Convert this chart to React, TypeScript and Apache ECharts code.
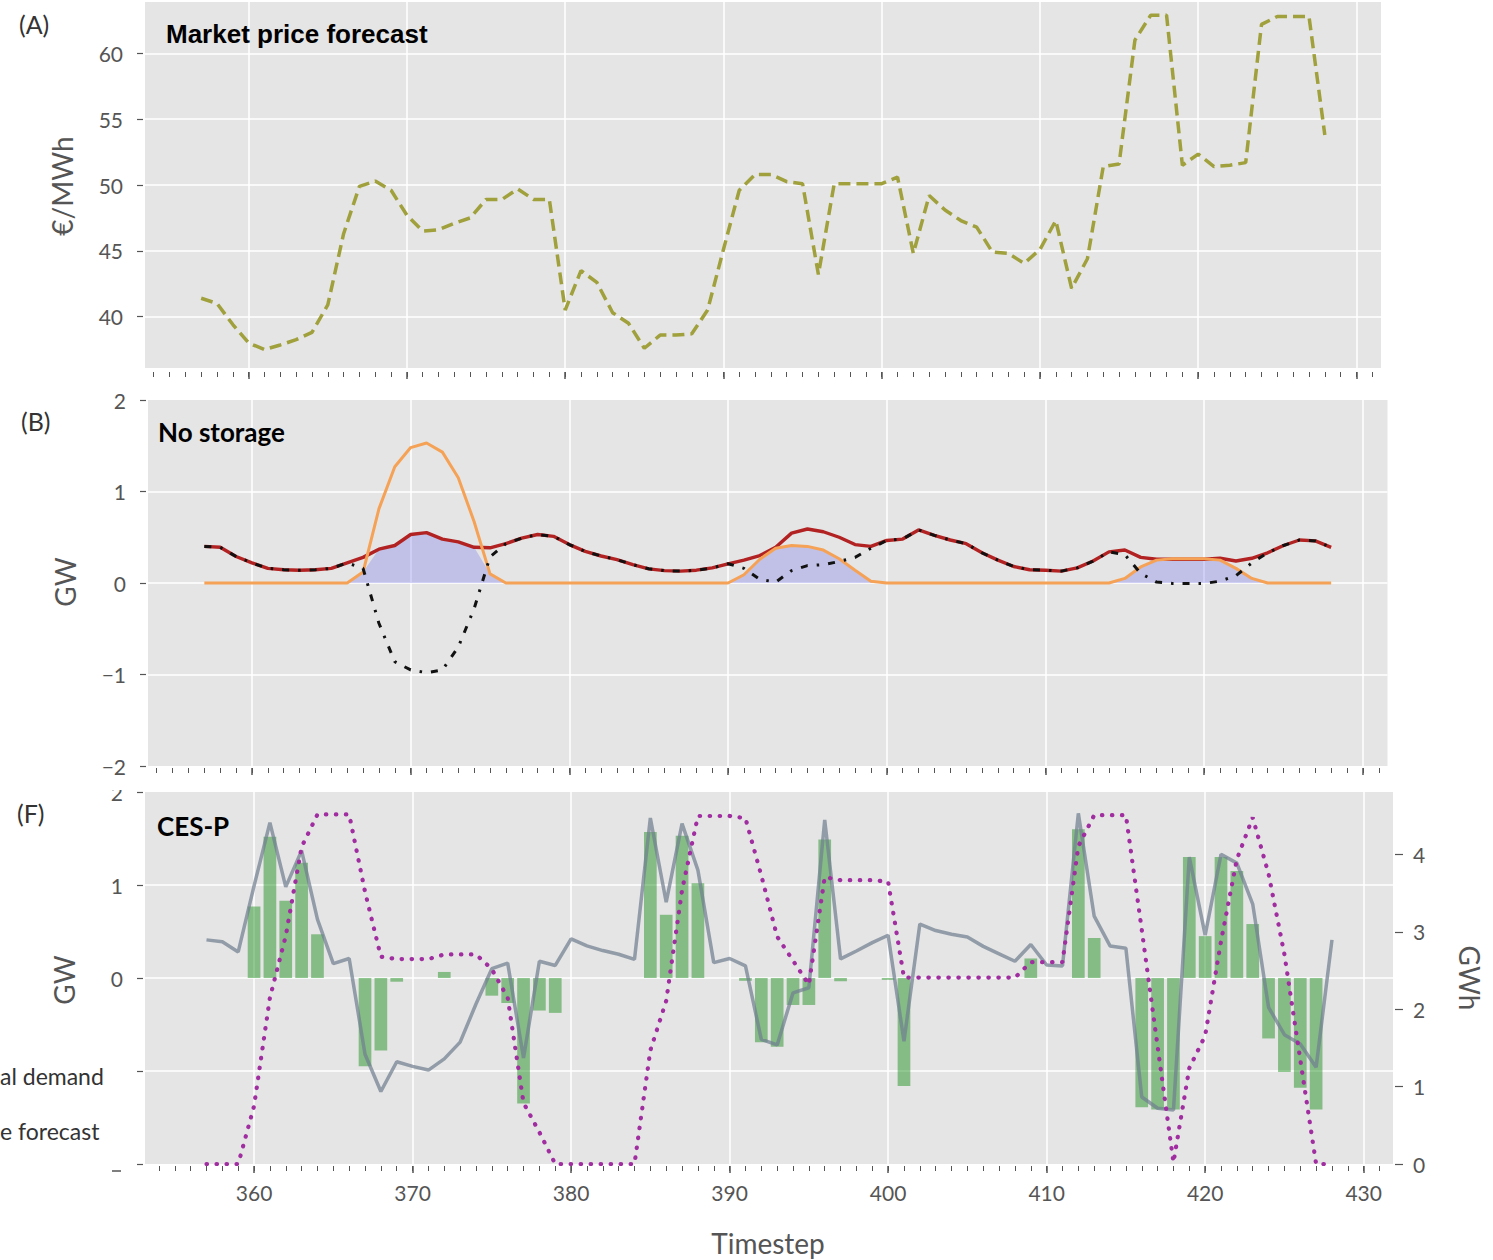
import React, { useEffect, useRef } from "react";
import * as echarts from "echarts";

// Timesteps shown in every panel
const timesteps: number[] = Array.from({ length: 72 }, (_, i) => 357 + i);

// (A) market price forecast, €/MWh
const priceForecast = [
  41.4, 41.0, 39.4, 38.0, 37.5, 37.85, 38.25, 38.8, 40.9, 46.3,
  49.9, 50.3, 49.6, 47.7, 46.5, 46.6, 47.1, 47.5, 48.9, 48.9,
  49.7, 48.9, 48.9, 40.5, 43.5, 42.6, 40.3, 39.5, 37.6, 38.6,
  38.6, 38.7, 40.5, 45.1, 49.6, 50.8, 50.8, 50.25, 50.1, 43.2,
  50.1, 50.1, 50.1, 50.1, 50.6, 44.8, 49.2, 48.1, 47.3, 46.8,
  44.9, 44.8, 44.05, 45.1, 47.3, 42.15, 44.4, 51.4, 51.6, 61.0,
  62.9, 62.9, 51.5, 52.35, 51.4, 51.5, 51.7, 62.2, 62.8, 62.8,
  62.8, 53.8,
];

// (B) no storage, GW
const demand = [
  0.40, 0.39, 0.29, 0.22, 0.16, 0.145, 0.14, 0.145, 0.16, 0.22,
  0.28, 0.37, 0.41, 0.53, 0.55, 0.48, 0.45, 0.39, 0.385, 0.43,
  0.49, 0.53, 0.51, 0.42, 0.345, 0.295, 0.255, 0.20, 0.155, 0.135,
  0.13, 0.14, 0.165, 0.21, 0.25, 0.30, 0.39, 0.545, 0.59, 0.56,
  0.50, 0.42, 0.40, 0.465, 0.48, 0.58, 0.52, 0.47, 0.43, 0.33,
  0.25, 0.18, 0.145, 0.14, 0.13, 0.165, 0.24, 0.34, 0.36, 0.28,
  0.26, 0.26, 0.26, 0.26, 0.27, 0.24, 0.27, 0.33, 0.41, 0.47,
  0.46, 0.39,
];
const pvGeneration = [
  0, 0, 0, 0, 0, 0, 0, 0, 0, 0,
  0.12, 0.81, 1.27, 1.48, 1.53, 1.43, 1.15, 0.67, 0.10, 0,
  0, 0, 0, 0, 0, 0, 0, 0, 0, 0,
  0, 0, 0, 0, 0.09, 0.26, 0.38, 0.41, 0.40, 0.36,
  0.265, 0.14, 0.02, 0, 0, 0, 0, 0, 0, 0,
  0, 0, 0, 0, 0, 0, 0, 0, 0.05, 0.175,
  0.25, 0.265, 0.265, 0.265, 0.25, 0.16, 0.05, 0, 0, 0,
  0, 0,
];
const netDemand = [
  0.40, 0.39, 0.29, 0.22, 0.16, 0.145, 0.14, 0.145, 0.16, 0.22,
  0.16, -0.44, -0.86, -0.95, -0.98, -0.95, -0.70, -0.28, 0.285, 0.43,
  0.49, 0.53, 0.51, 0.42, 0.345, 0.295, 0.255, 0.20, 0.155, 0.135,
  0.13, 0.14, 0.165, 0.21, 0.16, 0.04, 0.01, 0.135, 0.19, 0.20,
  0.235, 0.28, 0.38, 0.465, 0.48, 0.58, 0.52, 0.47, 0.43, 0.33,
  0.25, 0.18, 0.145, 0.14, 0.13, 0.165, 0.24, 0.34, 0.31, 0.105,
  0.01, -0.005, -0.005, -0.005, 0.02, 0.08, 0.22, 0.33, 0.41, 0.47,
  0.46, 0.39,
];
const selfConsumption = [
  0, 0, 0, 0, 0, 0, 0, 0, 0, 0,
  0.12, 0.37, 0.41, 0.53, 0.55, 0.48, 0.45, 0.39, 0.10, 0,
  0, 0, 0, 0, 0, 0, 0, 0, 0, 0,
  0, 0, 0, 0, 0.09, 0.26, 0.38, 0.41, 0.40, 0.36,
  0.265, 0.14, 0.02, 0, 0, 0, 0, 0, 0, 0,
  0, 0, 0, 0, 0, 0, 0, 0, 0.05, 0.175,
  0.25, 0.26, 0.26, 0.26, 0.25, 0.16, 0.05, 0, 0, 0,
  0, 0,
];

// (F) CES-P: battery power (GW), grid exchange (GW), state of charge (GWh)
const batteryPower: (number | null)[] = [
  null, null, null, 0.77, 1.52, 0.83, 1.24, 0.47, null, null,
  -0.95, -0.78, -0.04, null, null, 0.065, null, null, -0.19, -0.27,
  -1.35, -0.35, -0.375, null, null, null, null, null, 1.57, 0.68,
  1.53, 1.02, null, null, -0.03, -0.69, -0.74, -0.29, -0.29, 1.49,
  -0.035, null, null, -0.02, -1.16, null, null, null, null, null,
  null, null, 0.21, null, null, 1.60, 0.43, null, null, -1.39,
  -1.415, -1.415, 1.30, 0.45, 1.30, 1.15, 0.58, -0.65, -1.01, -1.18,
  -1.415, null,
];
const gridExchange = [
  0.41, 0.39, 0.28, 0.99, 1.67, 0.98, 1.37, 0.63, 0.155, 0.21,
  -0.82, -1.22, -0.90, -0.95, -0.99, -0.87, -0.69, -0.28, 0.10, 0.16,
  -0.86, 0.18, 0.135, 0.42, 0.345, 0.295, 0.255, 0.20, 1.72, 0.815,
  1.66, 1.16, 0.165, 0.21, 0.13, -0.66, -0.72, -0.16, -0.105, 1.70,
  0.205, 0.29, 0.38, 0.46, -0.68, 0.58, 0.51, 0.47, 0.44, 0.34,
  0.26, 0.18, 0.36, 0.14, 0.13, 1.77, 0.665, 0.345, 0.32, -1.28,
  -1.40, -1.42, 1.30, 0.46, 1.33, 1.235, 0.795, -0.315, -0.61, -0.71,
  -0.96, 0.41,
];
const stateOfCharge = [
  0, 0, 0, 0.75, 2.15, 2.95, 4.1, 4.52, 4.52, 4.52,
  3.52, 2.68, 2.65, 2.65, 2.65, 2.71, 2.71, 2.71, 2.52, 2.15,
  0.79, 0.41, 0, 0, 0, 0, 0, 0, 1.47, 2.11,
  3.54, 4.5, 4.5, 4.5, 4.47, 3.73, 2.94, 2.63, 2.32, 3.71,
  3.67, 3.67, 3.67, 3.65, 2.41, 2.41, 2.41, 2.41, 2.41, 2.41,
  2.41, 2.41, 2.61, 2.61, 2.61, 4.11, 4.51, 4.51, 4.51, 3.03,
  1.52, 0.02, 1.24, 1.66, 2.88, 3.94, 4.48, 3.75, 2.71, 1.35,
  0, 0,
];

// Axis ticks
const majorTicks = [360, 370, 380, 390, 400, 410, 420, 430];
const minorTicks: number[] = Array.from({ length: 78 }, (_, i) => 354 + i);
const priceTicks = [40, 45, 50, 55, 60];
const socTicks = [0, 1, 2, 3, 4];

const FONT = "Lato, 'Open Sans', sans-serif";
const TICK_COLOR = "#555555";
const labelStyle = { color: TICK_COLOR, fontFamily: FONT, fontSize: 21 };
const gridLine = { show: true, lineStyle: { color: "#ffffff", width: 1.5 } };
const edgeFreeGridLine = { ...gridLine, showMinLine: false, showMaxLine: false };

const pairs = (vals: (number | null)[]) => timesteps.map((t, i) => [t, vals[i]]);

function xAxes(gridIndex: number, min: number, max: number, offset: number, showLabels: boolean) {
  return [
    {
      type: "value", gridIndex, position: "bottom", min, max, offset,
      axisLine: { show: false, onZero: false },
      axisTick: { show: true, customValues: majorTicks, length: 7, lineStyle: { color: TICK_COLOR, width: 1.5 } },
      axisLabel: { show: showLabels, customValues: majorTicks, margin: 16, ...labelStyle },
      splitLine: gridLine,
    },
    {
      type: "value", gridIndex, position: "bottom", min, max, offset,
      axisLine: { show: false, onZero: false },
      axisTick: { show: true, customValues: minorTicks, length: 5, lineStyle: { color: TICK_COLOR, width: 1 } },
      axisLabel: { show: false },
      splitLine: { show: false },
    },
  ];
}

const minusLabel = (v: number) => (v < 0 ? "\u2212" + Math.abs(v) : String(v));

function text(x: number, y: number, s: string, font: string, fill: string, align = "left", rotation = 0) {
  return {
    type: "text", x, y, rotation, z: 50,
    style: { text: s, font, fill, align, verticalAlign: "middle", textAlign: align, textVerticalAlign: "middle" },
  };
}

function buildOption(): any {
  const leftTick = { show: true, length: 6, lineStyle: { color: TICK_COLOR, width: 1.2 } };
  return {
    animation: false,
    grid: [
      { left: 145, top: 2, width: 1236, height: 366, show: true, backgroundColor: "#e5e5e5", borderWidth: 0 },
      { left: 148, top: 400, width: 1239.5, height: 366, show: true, backgroundColor: "#e5e5e5", borderWidth: 0 },
      { left: 145, top: 792, width: 1248, height: 372, show: true, backgroundColor: "#e5e5e5", borderWidth: 0 },
    ],
    xAxis: [
      ...xAxes(0, 353.45, 431.55, 4, false),
      ...xAxes(1, 353.45, 431.55, 2, false),
      ...xAxes(2, 353.12, 431.85, 2, true),
    ],
    yAxis: [
      {
        type: "value", gridIndex: 0, min: 36.1, max: 63.9, offset: 2,
        axisLine: { show: false, onZero: false },
        axisTick: { ...leftTick, customValues: priceTicks },
        axisLabel: { customValues: priceTicks, margin: 20, ...labelStyle },
        splitLine: gridLine,
      },
      {
        type: "value", gridIndex: 1, min: -2, max: 2, interval: 1, offset: 2,
        axisLine: { show: false, onZero: false },
        axisTick: leftTick,
        axisLabel: { margin: 20, formatter: minusLabel, ...labelStyle },
        splitLine: edgeFreeGridLine,
      },
      {
        type: "value", gridIndex: 2, min: -2, max: 2, interval: 1, offset: 2,
        axisLine: { show: false, onZero: false },
        axisTick: leftTick,
        axisLabel: { margin: 20, formatter: (v: number) => (v >= 0 ? String(v) : ""), ...labelStyle },
        splitLine: edgeFreeGridLine,
      },
      {
        type: "value", gridIndex: 2, position: "right", min: 0, max: 4.81, offset: 2,
        axisLine: { show: false, onZero: false },
        axisTick: { show: true, length: 8, customValues: socTicks, lineStyle: { color: TICK_COLOR, width: 1.2 } },
        axisLabel: { customValues: socTicks, margin: 18, ...labelStyle },
        splitLine: { show: false },
      },
    ],
    series: [
      {
        type: "line", name: "Market price forecast", xAxisIndex: 0, yAxisIndex: 0,
        data: pairs(priceForecast), symbol: "none", silent: true,
        lineStyle: { color: "#a0a03c", width: 3.5, type: [12, 6] },
      },
      {
        type: "line", name: "Self consumption", xAxisIndex: 2, yAxisIndex: 1,
        data: pairs(selfConsumption), symbol: "none", silent: true,
        lineStyle: { width: 0, opacity: 0 },
        areaStyle: { color: "rgba(110,110,235,0.3)", opacity: 1 },
        z: 1,
      },
      {
        type: "line", name: "Demand", xAxisIndex: 2, yAxisIndex: 1,
        data: pairs(demand), symbol: "none", silent: true,
        lineStyle: { color: "#b22222", width: 3.4 }, z: 2,
      },
      {
        type: "line", name: "PV generation", xAxisIndex: 2, yAxisIndex: 1,
        data: pairs(pvGeneration), symbol: "none", silent: true,
        lineStyle: { color: "#f5a256", width: 3 }, z: 3,
      },
      {
        type: "line", name: "Net demand", xAxisIndex: 2, yAxisIndex: 1,
        data: pairs(netDemand), symbol: "none", silent: true,
        lineStyle: { color: "#111111", width: 3, type: [7, 9, 2.5, 9] }, z: 4,
      },
      {
        type: "bar", name: "Battery power", xAxisIndex: 4, yAxisIndex: 2,
        data: pairs(batteryPower), barWidth: 12.7, silent: true,
        itemStyle: { color: "rgba(0,128,0,0.42)" }, z: 1,
      },
      {
        type: "line", name: "Grid exchange", xAxisIndex: 4, yAxisIndex: 2,
        data: pairs(gridExchange), symbol: "none", silent: true,
        lineStyle: { color: "rgba(112,128,144,0.72)", width: 3.5 }, z: 3,
      },
      {
        type: "line", name: "State of charge", xAxisIndex: 4, yAxisIndex: 3,
        data: pairs(stateOfCharge), symbol: "none", silent: true,
        lineStyle: { color: "#a02ea0", width: 4.2, type: [0.5, 9.5], cap: "round" }, z: 4,
      },
    ],
    graphic: [
      text(19, 24, "(A)", `25px ${FONT}`, "#333"),
      text(166, 34, "Market price forecast", "bold 26px 'Liberation Sans', Arial, sans-serif", "#000"),
      text(62, 186, "€/MWh", `28px ${FONT}`, TICK_COLOR, "center", Math.PI / 2),
      text(21, 421, "(B)", `25px ${FONT}`, "#333"),
      text(158, 432, "No storage", `bold 26px ${FONT}`, "#000"),
      text(65, 582, "GW", `28px ${FONT}`, TICK_COLOR, "center", Math.PI / 2),
      text(17, 813, "(F)", `25px ${FONT}`, "#333"),
      text(157, 826, "CES-P", `bold 26px ${FONT}`, "#000"),
      text(64, 980, "GW", `28px ${FONT}`, TICK_COLOR, "center", Math.PI / 2),
      text(1470, 978, "GWh", `28px ${FONT}`, TICK_COLOR, "center", -Math.PI / 2),
      text(768, 1243, "Timestep", `28px ${FONT}`, TICK_COLOR, "center"),
      text(0, 1076, "al demand", `23px ${FONT}`, "#333"),
      text(0, 1131, "e forecast", `23px ${FONT}`, "#333"),
      { type: "rect", z: 100, shape: { x: 95, y: 775, width: 40, height: 15 }, style: { fill: "#ffffff" } },
      { type: "line", z: 50, shape: { x1: 112, y1: 1171, x2: 121, y2: 1171 }, style: { stroke: TICK_COLOR, lineWidth: 1.5 } },
    ],
  };
}

export default function App() {
  const ref = useRef<HTMLDivElement>(null);
  useEffect(() => {
    if (!ref.current) return;
    const chart = echarts.init(ref.current, undefined, { renderer: "svg" });
    chart.setOption(buildOption());
    return () => chart.dispose();
  }, []);
  return (
    <div
      ref={ref}
      style={{ position: "fixed", left: 0, top: 0, width: 1493, height: 1260, background: "#ffffff" }}
    />
  );
}
